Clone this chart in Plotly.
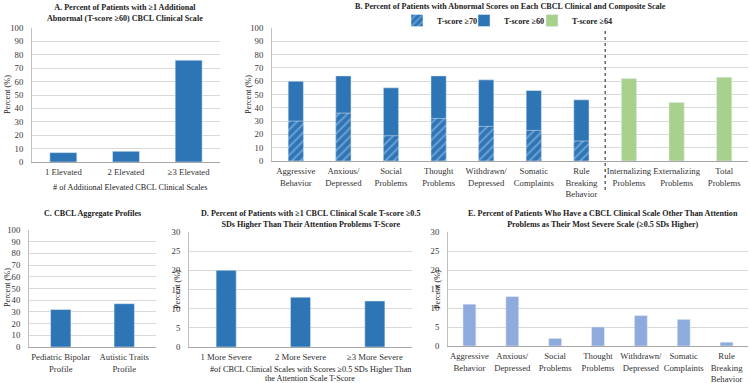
import plotly.graph_objects as go

W, H = 750, 383

# ---------------- data ----------------
a_cats = ["1 Elevated", "2 Elevated", "≥3 Elevated"]
a_vals = [7, 8, 76]

b_clin_cats = ["Aggressive<br>Behavior", "Anxious/<br>Depressed", "Social<br>Problems", "Thought<br>Problems",
               "Withdrawn/<br>Depressed", "Somatic<br>Complaints", "Rule<br>Breaking<br>Behavior"]
b_comp_cats = ["Internalizing<br>Problems", "Externalizing<br>Problems", "Total<br>Problems"]
b_t60 = [60, 64, 55, 64, 61, 53, 46]
b_t70 = [30, 36, 19, 32, 26, 23, 15]
b_t64 = [62, 44, 63]

c_cats = ["Pediatric Bipolar<br>Profile", "Autistic Traits<br>Profile"]
c_vals = [32, 37]

d_cats = ["1 More Severe", "2 More Severe", "≥3 More Severe"]
d_vals = [20, 13, 12]

e_cats = ["Aggressive<br>Behavior", "Anxious/<br>Depressed", "Social<br>Problems", "Thought<br>Problems",
          "Withdrawn/<br>Depressed", "Somatic<br>Complaints", "Rule<br>Breaking<br>Behavior"]
e_vals = [11, 13, 2, 5, 8, 7, 1]

# ---------------- style ----------------
BLUE = "#2e75b6"
LBLUE = "#8faadc"
GREEN = "#a9d18e"
FONT = "'Liberation Serif', 'Times New Roman', Times, serif"
GRID = "#d9d9d9"
TS = 8.7   # tick size
AS = 8.2   # axis-title size
HS = 8.1   # bold panel title size

def px_x(x):
    return x / W

def px_y(y):
    return 1 - y / H

fig = go.Figure()

fig.add_trace(go.Bar(x=a_cats, y=a_vals, marker_color=BLUE, width=0.43,
                     xaxis="x", yaxis="y", showlegend=False))

fig.add_trace(go.Bar(x=b_clin_cats, y=b_t60, marker_color=BLUE, width=0.32, name="<b>T-score ≥60</b>",
                     xaxis="x2", yaxis="y2", legend="legend2"))
fig.add_trace(go.Bar(x=b_clin_cats, y=b_t70, width=0.32, name="<b>T-score ≥70</b>",
                     marker=dict(color=BLUE, pattern=dict(shape="/", fgcolor="#a9c8ec", bgcolor=BLUE,
                                                          size=6, solidity=0.35)),
                     xaxis="x2", yaxis="y2", legend="legend"))
fig.add_trace(go.Bar(x=b_comp_cats, y=b_t64, marker_color=GREEN, width=0.32, name="<b>T-score ≥64</b>",
                     xaxis="x2", yaxis="y2", legend="legend3"))

fig.add_trace(go.Bar(x=c_cats, y=c_vals, marker_color=BLUE, width=0.32,
                     xaxis="x3", yaxis="y3", showlegend=False))
fig.add_trace(go.Bar(x=d_cats, y=d_vals, marker_color=BLUE, width=0.27,
                     xaxis="x4", yaxis="y4", showlegend=False))
fig.add_trace(go.Bar(x=e_cats, y=e_vals, marker_color=LBLUE, width=0.3,
                     xaxis="x5", yaxis="y5", showlegend=False))

tickfont = dict(family=FONT, size=TS, color="#333333")

def xax(x0, x1, anchor):
    return dict(domain=[px_x(x0), px_x(x1)], anchor=anchor, showgrid=False,
                showline=True, linecolor="#a6a6a6", linewidth=1, ticks="", tickangle=0,
                ticklabelstandoff=2,
                tickfont=tickfont, fixedrange=True, categoryorder="trace", automargin=False)

def yax(y0, y1, anchor, rng, dt):
    return dict(domain=[px_y(y1), px_y(y0)], anchor=anchor, range=rng, dtick=dt,
                showgrid=True, gridcolor=GRID, gridwidth=1, zeroline=False,
                showline=True, linecolor="#bfbfbf", linewidth=1, ticks="", ticklabelstandoff=6,
                tickfont=tickfont, fixedrange=True, automargin=False)

def leg(x):
    return dict(orientation="h", x=px_x(x), y=px_y(6), xanchor="left", yanchor="top",
                font=dict(family=FONT, size=8.2, color="#222222"), bgcolor="rgba(0,0,0,0)",
                itemwidth=30)

layout = dict(
    width=W, height=H, margin=dict(l=0, r=0, t=0, b=0),
    paper_bgcolor="white", plot_bgcolor="white",
    barmode="overlay", font=dict(family=FONT, size=TS, color="#222222"),
    xaxis=xax(32, 220, "y"), yaxis=yax(28, 162, "x", [0, 100], 10),
    xaxis2=xax(272, 748, "y2"), yaxis2=yax(28, 161, "x2", [0, 100], 10),
    xaxis3=xax(29, 156, "y3"), yaxis3=yax(230, 347, "x3", [0, 100], 10),
    xaxis4=xax(189, 412, "y4"), yaxis4=yax(232, 347, "x4", [0, 30], 5),
    xaxis5=xax(448, 748, "y5"), yaxis5=yax(232, 346, "x5", [0, 30], 5),
    legend=leg(397), legend2=leg(464), legend3=leg(532),
    showlegend=True,
)
fig.update_layout(**layout)

# dotted separator in panel B
fig.add_shape(type="line", xref="x2", yref="paper", x0=6.5, x1=6.5,
              y0=px_y(190), y1=px_y(28), line=dict(color="#404040", width=1.2, dash="dot"))

def ann(text, x, y, bold=False, angle=0, size=AS):
    t = f"<b>{text}</b>" if bold else text
    fig.add_annotation(text=t, x=px_x(x), y=px_y(y), xref="paper", yref="paper",
                       showarrow=False, textangle=angle, xanchor="center", yanchor="middle",
                       font=dict(family=FONT, size=size, color="#222222"))

# titles
ann("A. Percent of Patients with ≥1 Additional<br>Abnormal (T-score ≥60) CBCL Clinical Scale", 125, 13, bold=True, size=HS)
ann("B. Percent of Patients with Abnormal Scores on Each CBCL Clinical and Composite Scale", 510, 7, bold=True, size=HS)
ann("C. CBCL Aggregate Profiles", 92, 213, bold=True, size=HS)
ann("D. Percent of Patients with ≥1 CBCL Clinical Scale T-score ≥0.5<br>SDs Higher Than Their Attention Problems T-Score", 310, 219, bold=True, size=HS)
ann("E. Percent of Patients Who Have a CBCL Clinical Scale Other Than Attention<br>Problems as Their Most Severe Scale (≥0.5 SDs Higher)", 603, 219, bold=True, size=HS)

# axis titles
ann("# of Additional Elevated CBCL Clinical Scales", 130, 187)
ann("#of CBCL Clinical Scales with Scores ≥0.5 SDs Higher Than", 310, 369)
ann("the Attention Scale T-Score", 310, 378)
ann("Percent (%)", 7, 95, angle=-90)
ann("Percent (%)", 248, 95, angle=-90)
ann("Percent (%)", 7, 288, angle=-90)
ann("Percent (%)", 177, 290, angle=-90)
ann("Percent (%)", 437, 290, angle=-90)

fig.write_html("out.html", config={"displayModeBar": False},
               post_script="document.body.style.margin='0';document.body.style.padding='0';")
